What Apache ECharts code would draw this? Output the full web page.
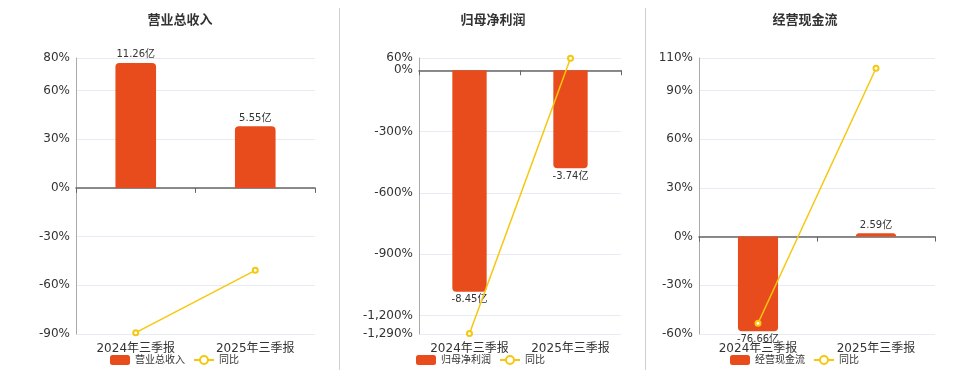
<!DOCTYPE html>
<html>
<head>
<meta charset="utf-8">
<script src="https://cdn.jsdelivr.net/npm/echarts@6/dist/echarts.min.js"></script>
<style>
html,body{margin:0;padding:0;background:#fff;}
#c{width:960px;height:372px;}
</style>
</head>
<body>
<div id="c"></div>
<script>
const categories = ['2024年三季报', '2025年三季报'];
const titles = ['营业总收入', '归母净利润', '经营现金流'];
const revenue = [11.26, 5.55];
const revenueYoy = [-89.2, -50.8];
const netProfit = [-8.45, -3.74];
const netProfitYoy = [-1288, 58.6];
const cashFlow = [-76.66, 2.59];
const cashFlowYoy = [-53.4, 103.7];
const pctTicks1 = [-90, -60, -30, 0, 30, 60, 80];
const pctTicks2 = [-1290, -1200, -900, -600, -300, 0, 60];
const pctTicks3 = [-60, -30, 0, 30, 60, 90, 110];

const BAR = '#e84c1d';
const LINE = '#f5c80f';
const FONT = '"DejaVu Sans", "Noto Sans CJK SC", sans-serif';

const chart = echarts.init(document.getElementById('c'));

const grids = [
  {left: 76, width: 239, top: 58, bottom: 38},
  {left: 419, width: 202, top: 58, bottom: 38},
  {left: 699, width: 236, top: 58, bottom: 38}
];
const pctTicks = [pctTicks1, pctTicks2, pctTicks3];
const barAxes = [
  {min: -13.16, max: 11.7},
  {min: -10.06, max: 0.468},
  {min: -78.84, max: 144.5}
];
const barData = [revenue, netProfit, cashFlow];
const yoyData = [revenueYoy, netProfitYoy, cashFlowYoy];
const titleCenters = [175, 488, 800];
const legendLefts = [110, 416, 730];

const xAxis = [], yAxis = [], series = [], title = [], legend = [];
for (let i = 0; i < 3; i++) {
  const t = pctTicks[i];
  xAxis.push({
    type: 'category', gridIndex: i, data: categories, position: 'bottom',
    axisLine: {show: false}, axisTick: {show: false},
    axisLabel: {color: '#333', fontSize: 12, margin: 9, interval: 0, fontFamily: FONT}
  });
  xAxis.push({
    type: 'category', gridIndex: i, data: categories, position: 'bottom',
    axisLine: {show: true, onZero: true, onZeroAxisIndex: i * 2, lineStyle: {color: '#666', width: 1.5}},
    axisTick: {show: true, length: 5, lineStyle: {color: '#666'}},
    axisLabel: {show: false}
  });
  yAxis.push({
    type: 'value', gridIndex: i,
    min: t[0], max: t[t.length - 1],
    axisLine: {show: true, lineStyle: {color: '#aaa'}},
    axisTick: {show: false, customValues: t},
    splitLine: {show: true, lineStyle: {color: '#e6ebf4'}},
    axisLabel: {color: '#333', fontSize: 12, margin: 6, fontFamily: FONT,
      customValues: t,
      formatter: v => v.toLocaleString('en-US') + '%'}
  });
  yAxis.push({
    type: 'value', gridIndex: i, position: 'right',
    min: barAxes[i].min, max: barAxes[i].max,
    show: false, splitLine: {show: false}
  });
  series.push({
    name: titles[i], type: 'bar', xAxisIndex: i * 2, yAxisIndex: i * 2 + 1,
    barWidth: '34%',
    data: barData[i].map(v => ({
      value: v,
      itemStyle: {borderRadius: v >= 0 ? [4, 4, 0, 0] : [0, 0, 4, 4]},
      label: {position: v >= 0 ? 'top' : 'bottom'}
    })),
    itemStyle: {color: BAR},
    label: {show: true, color: '#333', fontSize: 10, distance: 3, fontFamily: FONT,
      formatter: p => p.value + '亿'},
    z: 2
  });
  series.push({
    name: '同比', type: 'line', xAxisIndex: i * 2, yAxisIndex: i * 2,
    data: yoyData[i],
    symbol: 'emptyCircle', symbolSize: 5,
    lineStyle: {color: LINE, width: 1.5},
    itemStyle: {color: LINE, borderColor: LINE, borderWidth: 1.5},
    z: 3
  });
  title.push({
    text: titles[i], left: titleCenters[i], top: 9, textAlign: 'center',
    textStyle: {fontSize: 13, fontWeight: 'bold', color: '#333', fontFamily: FONT}
  });
  legend.push({
    data: [titles[i], '同比'], left: legendLefts[i], top: 355, padding: 0,
    itemWidth: 20, itemHeight: 10, itemGap: 8,
    textStyle: {fontSize: 10, color: '#333', fontFamily: FONT},
    orient: 'horizontal'
  });
}

chart.setOption({
  animation: false,
  title: title,
  legend: legend,
  grid: grids,
  xAxis: xAxis,
  yAxis: yAxis,
  series: series,
  graphic: [
    {type: 'line', shape: {x1: 339.5, y1: 8, x2: 339.5, y2: 370}, style: {stroke: '#cfcfcf', lineWidth: 1}},
    {type: 'line', shape: {x1: 645.5, y1: 8, x2: 645.5, y2: 370}, style: {stroke: '#cfcfcf', lineWidth: 1}}
  ]
});
</script>
</body>
</html>
